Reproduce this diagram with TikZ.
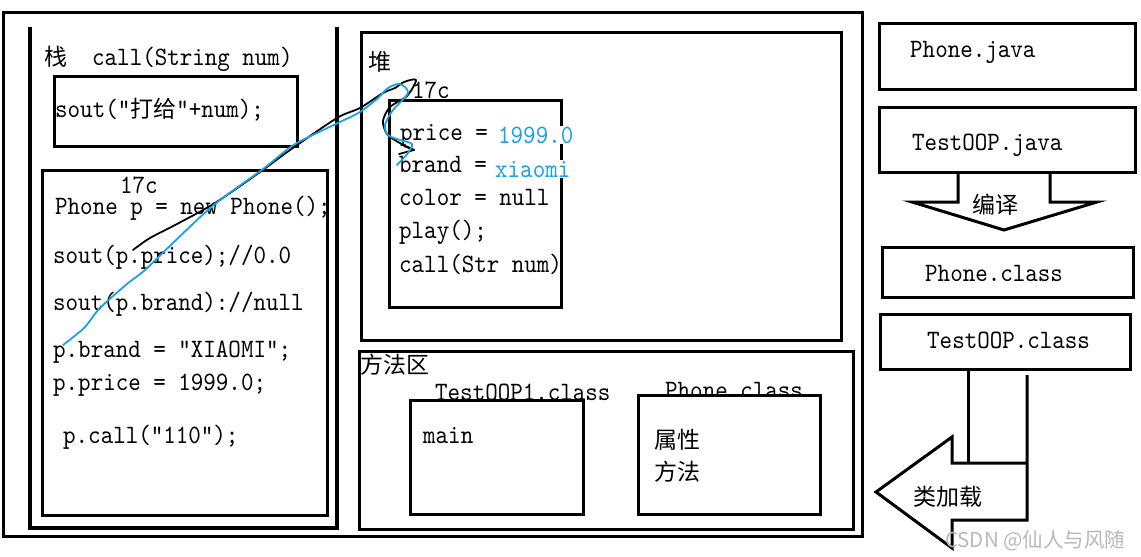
\documentclass[tikz,border=0pt]{standalone}
\usepackage{fontspec}
\setmainfont{lmmono10-regular.otf}[FakeStretch=0.9]
\newfontfamily\cjkfont{Noto Sans CJK SC}
\newcommand{\zhtext}[1]{{\cjkfont\fontsize{23}{28}\selectfont #1}}
\definecolor{inkblue}{RGB}{27,161,226}
\tikzset{
  code/.style={anchor=base west, inner sep=0pt, font=\fontsize{26.5}{30}\selectfont},
  zh/.style={anchor=base west, inner sep=0pt, font=\cjkfont\fontsize{23}{28}\selectfont},
  value/.style={code, text=inkblue, fill=white, inner sep=1pt},
  frame/.style={draw=black, line width=3pt},
  ink/.style={line width=1.8pt, line cap=round, line join=round},
}
\begin{document}
\begin{tikzpicture}[x=1pt, y=-1pt]
  \useasboundingbox (0,0) rectangle (1141,557);

  % outer frame
  \draw[frame] (3,12) rectangle (862,536);

  % stack
  \draw[frame, line width=3.5pt] (30,27) -- (30,528) -- (337,528) -- (337,27);
  \node[zh] (stacklbl) at (44,65) {栈};
  \node[code] (callhead) at (92,65) {call(String num)};
  \draw[frame] (54,76) rectangle (297,146);
  \node[code] (callbody) at (55,117) {sout(”\zhtext{打给}”+num);};
  \draw[frame] (42,170) rectangle (327,515);
  \node[code] (addr1) at (120,193) {17c};
  \node[code] (line1) at (55,214) {Phone p = new Phone();};
  \node[code] (line2) at (53,263) {sout(p.price);//0.0};
  \node[code] (line3) at (53,310) {sout(p.brand)://null};
  \node[code] (line4) at (53,357) {p.brand = ”XIAOMI”;};
  \node[code] (line5) at (53,390) {p.price = 1999.0;};
  \node[code] (line6) at (63,443) {p.call(”110”);};

  % heap
  \draw[frame] (361,32) rectangle (841,340);
  \node[zh] (heaplbl) at (368,70) {堆};
  \node[code] (addr2) at (412,98) {17c};
  \draw[frame] (389,100) rectangle (561,307);
  \node[code] (f1) at (400,140) {price =};
  \node[value] (v1) at (497,143) {1999.0};
  \node[code] (f2) at (399,172) {brand =};
  \node[value] (v2) at (494,177) {xiaomi};
  \node[code] (f3) at (399,205) {color = null};
  \node[code] (f4) at (399,238) {play();};
  \node[code] (f5) at (399,272) {call(Str num)};

  % method area
  \draw[frame] (359,351) rectangle (853,529);
  \node[zh] (methlbl) at (360,373) {方法区};
  \node[code] (cls1) at (435,400) {TestOOP1.class};
  \node[code] (cls2) at (665,398) {Phone.class};
  \draw[frame, fill=white] (410,400) rectangle (583,514);
  \draw[frame, fill=white] (638,395) rectangle (820,514);
  \node[code] (mainlbl) at (423,443) {main};
  \node[zh] (attr) at (654,448) {属性};
  \node[zh] (meth) at (654,480) {方法};

  % source files and compile arrow
  \draw[frame] (879,23) rectangle (1135,89);
  \node[code] (srcphone) at (910,57) {Phone.java};
  \draw[frame] (879,107) rectangle (1135,172);
  \node[code] (srctest) at (912,150) {TestOOP.java};
  \draw[frame] (958,172) -- (958,202) -- (912,202) -- (1004,230)
    -- (1097,202) -- (1050,202) -- (1050,172);
  \node[zh] (compile) at (972,213) {编译};
  \draw[frame] (882,247) rectangle (1133,297);
  \node[code] (binphone) at (925,281) {Phone.class};
  \draw[frame] (880,314) rectangle (1130,369);
  \node[code] (bintest) at (927,348) {TestOOP.class};

  % load arrow
  \draw[frame] (968,370) -- (968,463);
  \draw[frame] (1027,375) -- (1027,463) -- (952,463) -- (952,437) -- (876,492)
    -- (952,548) -- (952,520) -- (1027,520) -- cycle;
  \node[zh] (load) at (913,505) {类加载};

  % hand-drawn references
  \coordinate (pref) at (133,250);
  \coordinate (objtip) at (414,150);
  \draw[ink] plot[smooth, tension=0.5] coordinates {(pref) (150,238) (177,224)
    (215,203) (260,172) (290,150) (337,118) (360,108) (383,93) (395,88) (404,82)
    (416,80) (407,96) (390,107) (383,121) (387,134) (398,142) (objtip)};
  \draw[ink] (399,154) -- (objtip) -- (404,146);
  \coordinate (pbrand) at (63,345);
  \coordinate (brandtip) at (397,165);
  \draw[ink, inkblue] plot[smooth, tension=0.5] coordinates {(pbrand) (84,328)
    (100,308) (127,284) (145,270) (175,241) (215,204) (263,169) (292,146)
    (317,133) (340,122) (360,112) (378,98) (388,88) (400,84) (408,93) (393,110)
    (385,125) (388,135) (400,140) (412,144) (408,153) (brandtip)};

  % watermark
  \node[anchor=base west, inner sep=0pt, text=gray!55,
    font=\cjkfont\fontsize{20.5}{24}\selectfont] (mark) at (945,547) {CSDN @仙人与风随};
\end{tikzpicture}
\end{document}
